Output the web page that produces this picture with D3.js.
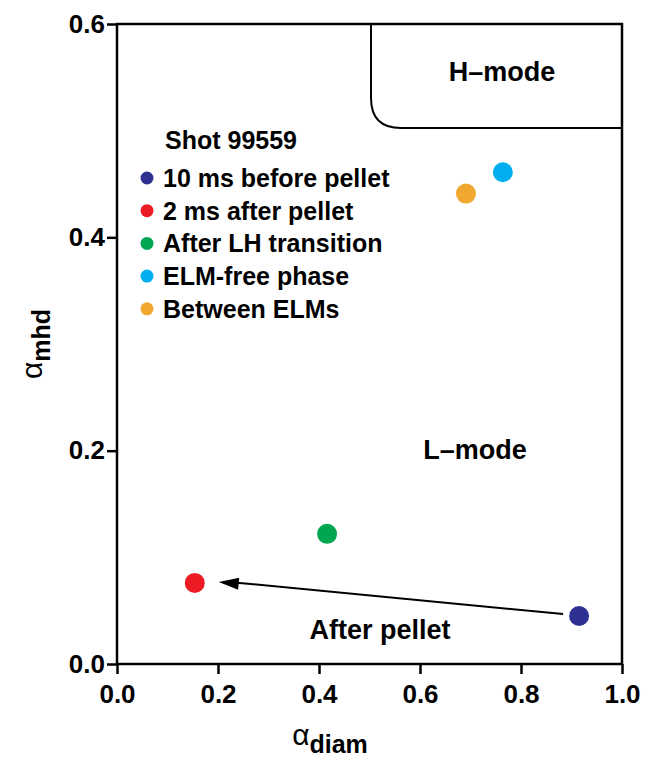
<!DOCTYPE html>
<html><head><meta charset="utf-8">
<script src="https://cdn.jsdelivr.net/npm/d3@7"></script>
<style>body{margin:0;background:#fff}text{font-family:"Liberation Sans",Arial,sans-serif;font-weight:bold}</style>
</head><body>
<svg id="chart" width="648" height="759"></svg>
<script>
var legendLabels = ['10 ms before pellet', '2 ms after pellet', 'After LH transition', 'ELM-free phase', 'Between ELMs'];
var colors = ['#2e3192', '#ed1c24', '#00a651', '#00aeef', '#f0a830'];
var xVals = [0.915, 0.154, 0.416, 0.764, 0.691];
var yVals = [0.045, 0.076, 0.122, 0.461, 0.441];
var xTicks = [0, 0.2, 0.4, 0.6, 0.8, 1.0];
var yTicks = [0, 0.2, 0.4, 0.6];

var svg = d3.select('#chart');
var x = d3.scaleLinear().domain([0, 1]).range([117, 622]);
var y = d3.scaleLinear().domain([0, 0.6]).range([664, 24]);

// frame
svg.append('path').attr('d', 'M' + x(0) + ',' + y(0.6) + 'H' + x(1) + 'V' + y(0) + 'H' + x(0) + 'Z')
    .attr('fill', 'none').attr('stroke', '#000').attr('stroke-width', 2.5);

var xAxis = svg.append('g').attr('transform', 'translate(0,' + y(0) + ')')
    .call(d3.axisBottom(x).tickValues(xTicks).tickFormat(d3.format('.1f')).tickSize(10).tickSizeOuter(0));
var yAxis = svg.append('g').attr('transform', 'translate(' + x(0) + ',0)')
    .call(d3.axisLeft(y).tickValues(yTicks).tickFormat(d3.format('.1f')).tickSize(10).tickSizeOuter(0));
[xAxis, yAxis].forEach(function(a) {
    a.select('.domain').remove();
    a.selectAll('line').attr('stroke-width', 2.5);
    a.selectAll('text').style('font-size', '26px').style('font-weight', 'bold').style('font-family', '"Liberation Sans",Arial,sans-serif');
});
xAxis.selectAll('text').attr('dy', '1.0em');
yAxis.selectAll('text').attr('x', -12);

// H-mode boundary
var r = 30, hy = 0.5025;
svg.append('path')
    .attr('d', 'M' + x(0.503) + ',' + y(0.6) + 'V' + (y(hy) - r) +
        'Q' + x(0.503) + ',' + y(hy) + ' ' + (x(0.503) + r) + ',' + y(hy) + 'H' + x(1))
    .attr('fill', 'none').attr('stroke', '#000').attr('stroke-width', 2);

svg.append('text').attr('x', 502).attr('y', 81).attr('text-anchor', 'middle').style('font-size', '27px').text('H–mode');
svg.append('text').attr('x', 475).attr('y', 459).attr('text-anchor', 'middle').style('font-size', '27px').text('L–mode');
svg.append('text').attr('x', 380).attr('y', 639).attr('text-anchor', 'middle').style('font-size', '27px').text('After pellet');

// arrow
var sx = x(xVals[0]) - 16, sy = y(yVals[0]) - 2;
var ax = x(xVals[1]) + 24, ay = y(yVals[1]) - 1;
svg.append('line').attr('x1', sx).attr('y1', sy).attr('x2', ax + 10).attr('y2', ay)
    .attr('stroke', '#000').attr('stroke-width', 2);
var ang = Math.atan2(sy - ay, sx - ax);
svg.append('path').attr('d', 'M0,0L20,-6L20,6Z').attr('fill', '#000')
    .attr('transform', 'translate(' + ax + ',' + ay + ') rotate(' + (ang * 180 / Math.PI) + ')');

// points
svg.selectAll('circle.pt').data(xVals).enter().append('circle').attr('class', 'pt')
    .attr('cx', function(d) { return x(d); })
    .attr('cy', function(d, i) { return y(yVals[i]); })
    .attr('r', 10).attr('fill', function(d, i) { return colors[i]; });

// legend
svg.append('text').attr('x', 165).attr('y', 149).style('font-size', '25px').text('Shot 99559');
legendLabels.forEach(function(l, i) {
    var yy = 178 + i * 32.7;
    svg.append('circle').attr('cx', 147).attr('cy', yy).attr('r', 6.5).attr('fill', colors[i]);
    svg.append('text').attr('x', 163).attr('y', yy + 9).style('font-size', '25px').text(l);
});

// axis labels
svg.append('text').attr('x', 330).attr('y', 745).attr('text-anchor', 'middle').style('font-weight', 'normal').style('font-size', '30px')
    .html('α<tspan dy="8" style="font-size:25px;font-weight:bold">diam</tspan>');
svg.append('text').attr('transform', 'translate(42,344) rotate(-90)').attr('text-anchor', 'middle').style('font-weight', 'normal').style('font-size', '30px')
    .html('α<tspan dy="8" style="font-size:25px;font-weight:bold">mhd</tspan>');
</script>
</body></html>
